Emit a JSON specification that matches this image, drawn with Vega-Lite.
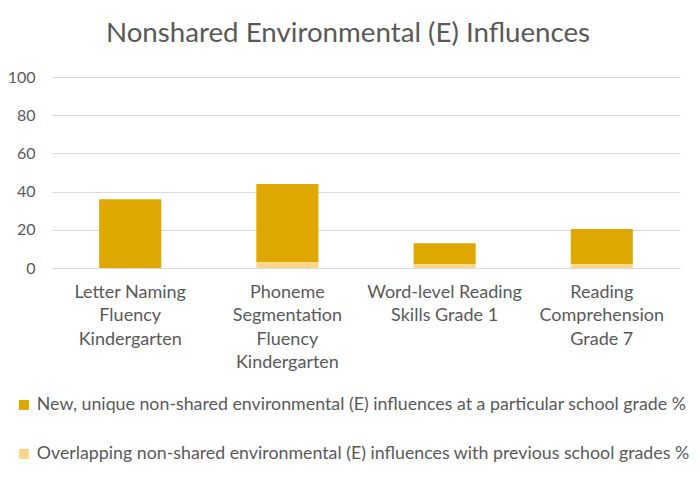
{
  "$schema": "https://vega.github.io/schema/vega-lite/v6.json",
  "autosize": {"type": "none"},
  "width": 628,
  "height": 191,
  "padding": {"left": 52, "top": 77, "right": 20, "bottom": 210},
  "background": "white",
  "title": {
    "text": "Nonshared Environmental (E) Influences",
    "font": "Lato",
    "fontSize": 27.7,
    "fontWeight": "normal",
    "color": "#595959",
    "anchor": "middle",
    "dx": -18,
    "offset": 21
  },
  "data": {
    "values": [
      {"task": "Letter Naming|Fluency|Kindergarten", "series": "New, unique non-shared environmental (E) influences at a particular school grade %", "value": 36},
      {"task": "Letter Naming|Fluency|Kindergarten", "series": "Overlapping non-shared environmental (E) influences with previous school grades %", "value": 0},
      {"task": "Phoneme|Segmentation|Fluency|Kindergarten", "series": "New, unique non-shared environmental (E) influences at a particular school grade %", "value": 41},
      {"task": "Phoneme|Segmentation|Fluency|Kindergarten", "series": "Overlapping non-shared environmental (E) influences with previous school grades %", "value": 3},
      {"task": "Word-level Reading|Skills Grade 1", "series": "New, unique non-shared environmental (E) influences at a particular school grade %", "value": 11},
      {"task": "Word-level Reading|Skills Grade 1", "series": "Overlapping non-shared environmental (E) influences with previous school grades %", "value": 2},
      {"task": "Reading|Comprehension|Grade 7", "series": "New, unique non-shared environmental (E) influences at a particular school grade %", "value": 18.4},
      {"task": "Reading|Comprehension|Grade 7", "series": "Overlapping non-shared environmental (E) influences with previous school grades %", "value": 2}
    ]
  },
  "mark": {"type": "bar"},
  "encoding": {
    "x": {
      "field": "task",
      "type": "nominal",
      "sort": null,
      "scale": {"paddingInner": 0.605, "paddingOuter": 0.3},
      "axis": {
        "title": null,
        "labelAngle": 0,
        "labelExpr": "split(datum.label, '|')",
        "labelFont": "Lato",
        "labelFontSize": 18,
        "labelColor": "#595959",
        "labelLineHeight": 23.5,
        "labelPadding": 15,
        "labelBaseline": "top",
        "ticks": false,
        "domainColor": "#d9d9d9",
        "domainWidth": 1
      }
    },
    "y": {
      "field": "value",
      "type": "quantitative",
      "stack": "zero",
      "scale": {"domain": [0, 100], "nice": false},
      "axis": {
        "title": null,
        "values": [0, 20, 40, 60, 80, 100],
        "labelFont": "Lato",
        "labelFontSize": 16,
        "labelColor": "#595959",
        "labelPadding": 17,
        "ticks": false,
        "domain": false,
        "gridColor": "#d9d9d9",
        "gridWidth": 1
      }
    },
    "color": {
      "field": "series",
      "type": "nominal",
      "scale": {
        "domain": [
          "New, unique non-shared environmental (E) influences at a particular school grade %",
          "Overlapping non-shared environmental (E) influences with previous school grades %"
        ],
        "range": ["#DFA800", "#FFD58A"]
      },
      "legend": {
        "title": null,
        "orient": "none",
        "legendX": -37,
        "legendY": 319,
        "direction": "vertical",
        "symbolType": "square",
        "symbolSize": 100,
        "symbolStrokeWidth": 0,
        "labelFont": "Lato",
        "labelFontSize": 17.8,
        "labelColor": "#595959",
        "labelLimit": 700,
        "labelOffset": 4,
        "rowPadding": 30
      }
    },
    "order": {"field": "series", "sort": "descending"}
  },
  "config": {"view": {"stroke": null}}
}
